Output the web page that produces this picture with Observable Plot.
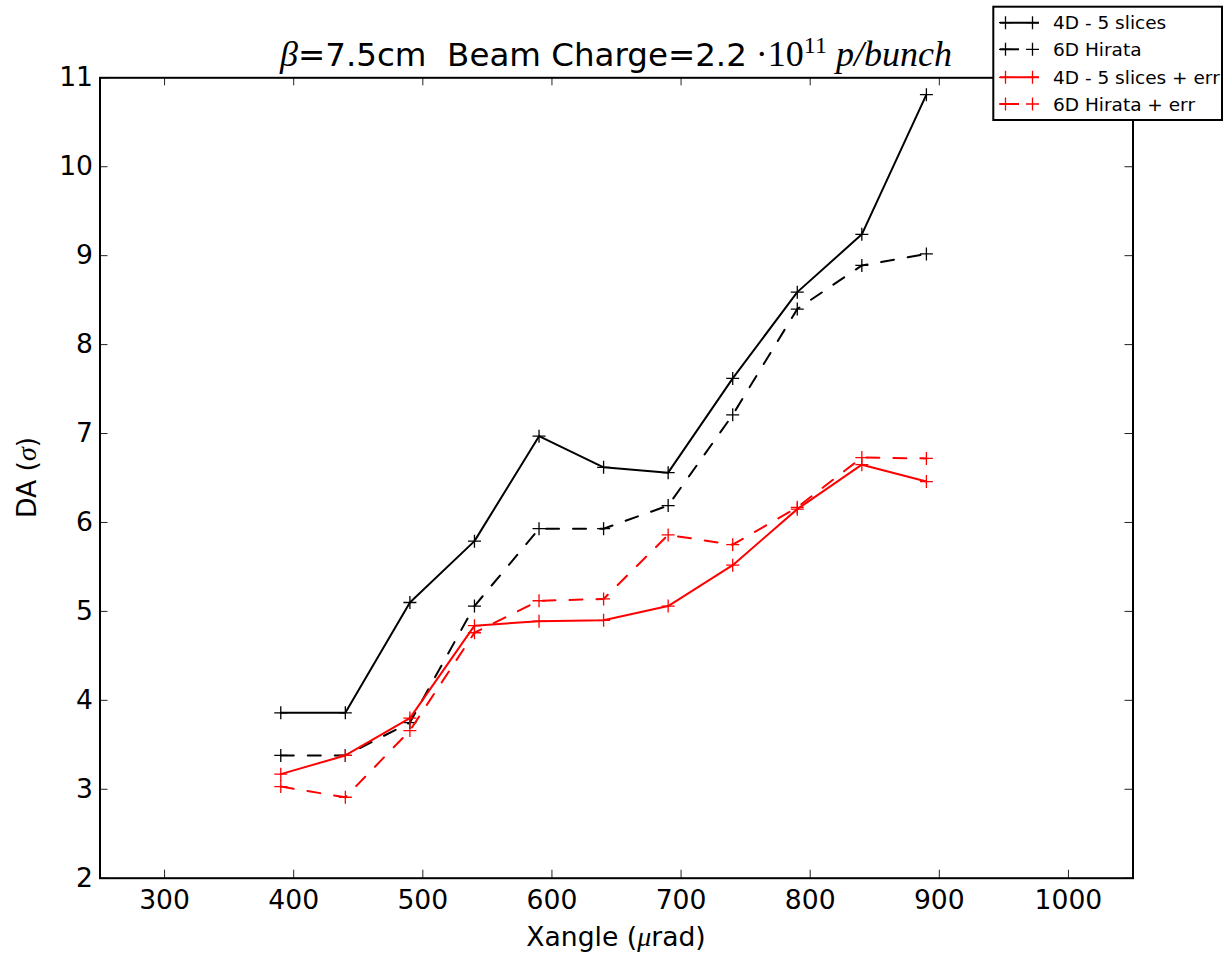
<!DOCTYPE html>
<html><head><meta charset="utf-8">
<script src="https://cdn.jsdelivr.net/npm/d3@7"></script>
<script src="https://cdn.jsdelivr.net/npm/@observablehq/plot@0.6"></script>
<style>body{margin:0;background:#fff;} #chart{position:relative;width:1226px;height:959px;}</style>
</head><body><div id="chart"></div>
<script>
// ---- data ----
const xangle = [390, 440, 490, 540, 590, 640, 690, 740, 790, 840, 890];
const da4D    = [3.86, 3.86, 5.10, 5.79, 6.97, 6.62, 6.56, 7.62, 8.59, 9.24, 10.81];
const da6D    = [3.38, 3.38, 3.75, 5.06, 5.93, 5.93, 6.19, 7.21, 8.40, 8.89, 9.02];
const da4DErr = [3.17, 3.38, 3.80, 4.84, 4.89, 4.90, 5.06, 5.52, 6.15, 6.65, 6.46];
const da6DErr = [3.03, 2.91, 3.66, 4.76, 5.12, 5.14, 5.86, 5.75, 6.17, 6.73, 6.72];
const seriesNames  = ["4D - 5 slices", "6D Hirata", "4D - 5 slices + err", "6D Hirata + err"];
const seriesColors = ["black", "black", "red", "red"];
const seriesDashed = [false, true, false, true];
const xTicks = [300, 400, 500, 600, 700, 800, 900, 1000];
const yTicks = [2, 3, 4, 5, 6, 7, 8, 9, 10, 11];

const W = 1226, H = 959;
const mL = 99.5, mR = 93.5, mT = 77.3, mB = 81.3;
const frameH = H - mT - mB, frameW = W - mL - mR;
const TICK = 8;
const DASH = "13,14";
const sans = "DejaVu Sans";
const serif = "Liberation Serif";

const allValues = [da4D, da6D, da4DErr, da6DErr];
const rows = [];
allValues.forEach((vals, i) => vals.forEach((v, j) => rows.push({series: seriesNames[i], x: xangle[j], y: v})));

const plusSymbol = {
  draw(ctx) { const r = 6.5; ctx.moveTo(-r, 0); ctx.lineTo(r, 0); ctx.moveTo(0, -r); ctx.lineTo(0, r); }
};

const seriesMarks = [];
seriesNames.forEach((name, i) => {
  const d = rows.filter(r => r.series === name);
  seriesMarks.push(Plot.line(d, {x: "x", y: "y", stroke: seriesColors[i], strokeWidth: 2,
    strokeDasharray: seriesDashed[i] ? DASH : undefined, strokeLinejoin: "round"}));
  seriesMarks.push(Plot.dot(d, {x: "x", y: "y", symbol: plusSymbol, r: 6, stroke: seriesColors[i], fill: "none", strokeWidth: 1.3}));
});

const chart = Plot.plot({
  width: W, height: H,
  marginLeft: mL, marginRight: mR, marginTop: mT, marginBottom: mB,
  style: {fontFamily: sans, background: "white", overflow: "visible"},
  x: {domain: [250, 1050]},
  y: {domain: [2, 11]},
  marks: [
    ...seriesMarks,
    Plot.tickX(xTicks, {x: d => d, insetTop: frameH - TICK, stroke: "#222", strokeWidth: 1}),
    Plot.tickX(xTicks, {x: d => d, insetBottom: frameH - TICK, stroke: "#222", strokeWidth: 1}),
    Plot.tickY(yTicks, {y: d => d, insetRight: frameW - TICK, stroke: "#222", strokeWidth: 1}),
    Plot.tickY(yTicks, {y: d => d, insetLeft: frameW - TICK, stroke: "#222", strokeWidth: 1}),
    Plot.axisX({anchor: "bottom", ticks: xTicks, tickFormat: d => String(d), tickSize: 0, tickPadding: 12, fontSize: 26.6, label: null, fill: "black"}),
    Plot.axisY({anchor: "left", ticks: yTicks, tickFormat: d => String(d), tickSize: 0, tickPadding: 7, fontSize: 26.6, label: null, fill: "black"}),
    Plot.frame({stroke: "black", strokeWidth: 2})
  ]
});
document.getElementById("chart").appendChild(chart);

const svg = d3.select(chart);
// title
const t = svg.append("text").attr("x", mL + frameW / 2).attr("y", 66).attr("text-anchor", "middle").attr("fill", "black");
t.append("tspan").attr("font-family", serif).attr("font-style", "italic").attr("font-size", 36).text("β");
t.append("tspan").attr("font-family", sans).attr("font-size", 32.5).text("=7.5cm\u00A0\u00A0Beam Charge=2.2");
t.append("tspan").attr("font-family", serif).attr("font-size", 36).text("\u00A0·10");
t.append("tspan").attr("font-family", serif).attr("font-size", 24).attr("dy", -13).text("11");
t.append("tspan").attr("font-family", serif).attr("font-style", "italic").attr("font-size", 36).attr("dy", 13).text("\u00A0p/bunch");

// x label
const xl = svg.append("text").attr("x", mL + frameW / 2).attr("y", 946).attr("text-anchor", "middle").attr("fill", "black").attr("font-size", 26.6);
xl.append("tspan").attr("font-family", sans).text("Xangle (");
xl.append("tspan").attr("font-family", serif).attr("font-style", "italic").attr("font-size", 28).text("μ");
xl.append("tspan").attr("font-family", sans).text("rad)");

// y label
const yl = svg.append("text").attr("transform", `translate(36,${mT + frameH / 2}) rotate(-90)`).attr("text-anchor", "middle").attr("fill", "black").attr("font-size", 26.6);
yl.append("tspan").attr("font-family", sans).text("DA (");
yl.append("tspan").attr("font-family", serif).attr("font-style", "italic").attr("font-size", 28).text("σ");
yl.append("tspan").attr("font-family", sans).text(")");

// legend
const lg = svg.append("g").attr("text-anchor", "start");
lg.append("rect").attr("x", 993.3).attr("y", 6.7).attr("width", 228.7).attr("height", 113.3)
  .attr("fill", "white").attr("stroke", "black").attr("stroke-width", 2);
const rowY = [22.7, 49.3, 77.3, 104];
seriesNames.forEach((name, i) => {
  const y = rowY[i];
  lg.append("line").attr("x1", 1000).attr("x2", 1039).attr("y1", y).attr("y2", y)
    .attr("stroke", seriesColors[i]).attr("stroke-width", 2).attr("stroke-dasharray", seriesDashed[i] ? "19,40" : null);
  [1005.5, 1032.5].forEach(mx => {
    lg.append("path").attr("d", `M${mx - 6.5},${y}H${mx + 6.5}M${mx},${y - 6.5}V${y + 6.5}`)
      .attr("stroke", seriesColors[i]).attr("stroke-width", 1.3).attr("fill", "none");
  });
  lg.append("text").attr("x", 1053).attr("y", y).attr("dy", "0.36em").attr("text-anchor", "start")
    .attr("font-family", sans).attr("font-size", 18.5).attr("fill", "black").text(name);
});
</script></body></html>
